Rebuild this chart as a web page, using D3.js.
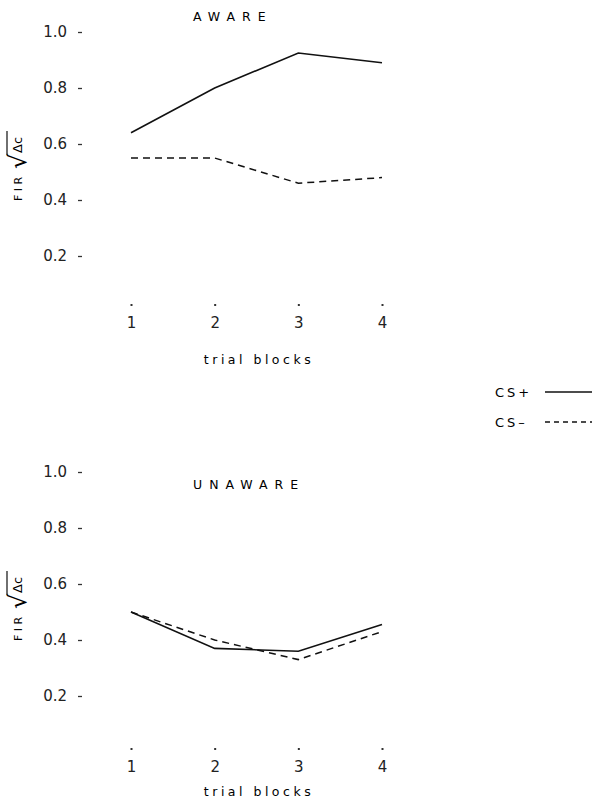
<!DOCTYPE html>
<html>
<head>
<meta charset="utf-8">
<script src="https://cdn.jsdelivr.net/npm/d3@7"></script>
<style>
  body { margin: 0; background: #fff; }
  svg { display: block; font-family: "DejaVu Sans", sans-serif; }
</style>
</head>
<body>
<div id="chart"></div>
<script>
const blocks = [1, 2, 3, 4];
const yTicks = [0.2, 0.4, 0.6, 0.8, 1.0];

const awarePlus = [0.64, 0.80, 0.925, 0.89];
const awareMinus = [0.55, 0.55, 0.46, 0.48];
const unawarePlus = [0.50, 0.37, 0.36, 0.455];
const unawareMinus = [0.50, 0.40, 0.33, 0.43];

const WIDTH = 592, HEIGHT = 802;
const FONT = "'DejaVu Sans', sans-serif";

const svg = d3.select("#chart").append("svg")
  .attr("width", WIDTH)
  .attr("height", HEIGHT);

const x = d3.scaleLinear().domain([1, 4]).range([131, 382]);

function drawPanel(top, title, titleY, axisOff, xlabOff, plus, minus) {
  // 1.0 sits at top + 32, 0 at top + 312
  const y = d3.scaleLinear().domain([0, 1]).range([top + 312, top + 32]);
  const g = svg.append("g");

  const yAxis = g.append("g")
    .attr("transform", "translate(82,0)")
    .call(d3.axisLeft(y).tickValues(yTicks).tickSize(4).tickPadding(11).tickFormat(d3.format(".1f")));
  yAxis.select(".domain").remove();
  yAxis.selectAll("text").attr("font-size", 15).attr("font-family", FONT).attr("fill", "#222");
  yAxis.selectAll("line").attr("stroke", "#333").attr("stroke-width", 1.3);

  const xAxis = g.append("g")
    .attr("transform", `translate(0,${top + axisOff})`)
    .call(d3.axisBottom(x).tickValues(blocks).tickSize(2).tickPadding(11).tickFormat(d3.format("d")));
  xAxis.select(".domain").remove();
  xAxis.selectAll("text").attr("font-size", 15).attr("font-family", FONT).attr("fill", "#222");
  xAxis.selectAll("line").attr("stroke", "#333").attr("stroke-width", 2);

  g.append("text")
    .attr("x", 259).attr("y", top + xlabOff)
    .attr("text-anchor", "middle")
    .attr("font-size", 12.5)
    .attr("letter-spacing", "3.5px")
    .text("trial  blocks");

  g.append("text")
    .attr("x", 193).attr("y", titleY)
    .attr("font-size", 12.5)
    .attr("letter-spacing", "7px")
    .text(title);

  // y label: FIR sqrt(Δc), rotated
  const lab = g.append("g").attr("transform", `translate(22,${top + 165}) rotate(-90)`);
  lab.append("text")
    .attr("x", -36).attr("y", 0)
    .attr("font-size", 11)
    .attr("letter-spacing", "3.5px")
    .text("FIR");
  lab.append("text")
    .attr("x", -4).attr("y", 4)
    .attr("font-size", 24)
    .text("√");
  lab.append("line")
    .attr("x1", 10).attr("x2", 34)
    .attr("y1", -15).attr("y2", -15)
    .attr("stroke", "#222").attr("stroke-width", 1.3);
  lab.append("text")
    .attr("x", 12).attr("y", 0)
    .attr("font-size", 13)
    .text("Δc");

  const line = d3.line().x((d, i) => x(blocks[i])).y(d => y(d));

  g.append("path")
    .datum(plus)
    .attr("d", line)
    .attr("fill", "none")
    .attr("stroke", "#111")
    .attr("stroke-width", 1.6);

  g.append("path")
    .datum(minus)
    .attr("d", line)
    .attr("fill", "none")
    .attr("stroke", "#111")
    .attr("stroke-width", 1.5)
    .attr("stroke-dasharray", "7,5");
}

drawPanel(0, "AWARE", 21, 304, 364, awarePlus, awareMinus);
drawPanel(440, "UNAWARE", 489, 308, 356, unawarePlus, unawareMinus);

// legend
const legend = svg.append("g");
const legendItems = [
  { name: "CS+", dash: null, y: 392 },
  { name: "CS\u2013", dash: "5,4", y: 422 }
];
legend.selectAll("text")
  .data(legendItems)
  .join("text")
  .attr("x", 495).attr("y", d => d.y + 5)
  .attr("font-size", 13)
  .attr("letter-spacing", "3px")
  .text(d => d.name);
legend.selectAll("line")
  .data(legendItems)
  .join("line")
  .attr("x1", 545).attr("x2", 592)
  .attr("y1", d => d.y).attr("y2", d => d.y)
  .attr("stroke", "#111")
  .attr("stroke-width", 1.4)
  .attr("stroke-dasharray", d => d.dash);
</script>
</body>
</html>
